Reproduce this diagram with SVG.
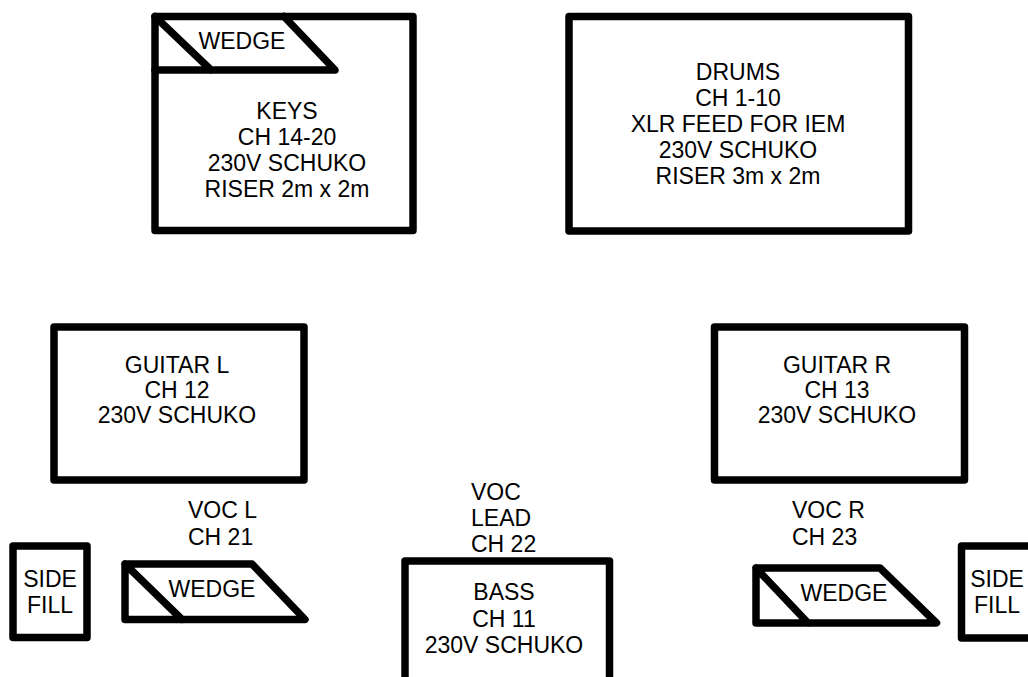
<svg xmlns="http://www.w3.org/2000/svg" width="1028" height="677" viewBox="0 0 1028 677">
<style>
.s{fill:none;stroke:#000;stroke-width:7.5;stroke-linejoin:round;stroke-linecap:round}
text{font-family:"Liberation Sans",Arial,sans-serif;font-size:23px;fill:#000}
.c{text-anchor:middle}
</style>
<rect width="1028" height="677" fill="#fff"/>
<g id="keys">
<rect class="s" x="155" y="16.5" width="258" height="214"/>
<text class="c" x="287" y="119">KEYS</text>
<text class="c" x="287" y="145">CH 14-20</text>
<text class="c" x="287" y="171">230V SCHUKO</text>
<text class="c" x="287" y="197">RISER 2m x 2m</text>
</g>
<g id="keys-wedge">
<path class="s" d="M155 70 H335 L284 16.5 M155 16.5 L211 70"/>
<text class="c" x="242" y="49">WEDGE</text>
</g>
<g id="drums">
<rect class="s" x="569" y="16.5" width="339.5" height="214.5"/>
<text class="c" x="738" y="80">DRUMS</text>
<text class="c" x="738" y="106">CH 1-10</text>
<text class="c" x="738" y="132">XLR FEED FOR IEM</text>
<text class="c" x="738" y="158">230V SCHUKO</text>
<text class="c" x="738" y="184">RISER 3m x 2m</text>
</g>
<g id="guitar-l">
<rect class="s" x="54" y="327" width="250" height="153"/>
<text class="c" x="177" y="373">GUITAR L</text>
<text class="c" x="177" y="398">CH 12</text>
<text class="c" x="177" y="423">230V SCHUKO</text>
</g>
<g id="guitar-r">
<rect class="s" x="714.5" y="327" width="250" height="153"/>
<text class="c" x="837" y="373">GUITAR R</text>
<text class="c" x="837" y="398">CH 13</text>
<text class="c" x="837" y="423">230V SCHUKO</text>
</g>
<g id="bass">
<rect class="s" x="405" y="561" width="204.5" height="140"/>
<text class="c" x="504" y="600">BASS</text>
<text class="c" x="504" y="627">CH 11</text>
<text class="c" x="504" y="653">230V SCHUKO</text>
</g>
<g id="voc-lead">
<text x="471" y="500">VOC</text>
<text x="471" y="526">LEAD</text>
<text x="471" y="552">CH 22</text>
</g>
<g id="voc-l">
<text x="188" y="518">VOC L</text>
<text x="188" y="545">CH 21</text>
</g>
<g id="voc-r">
<text x="792" y="518">VOC R</text>
<text x="792" y="545">CH 23</text>
</g>
<g id="side-fill-l">
<rect class="s" x="13" y="546" width="74" height="91.5"/>
<text class="c" x="50" y="587">SIDE</text>
<text class="c" x="50" y="613">FILL</text>
</g>
<g id="wedge-l">
<path class="s" d="M125 564 H252 L305 619.5 H125 Z M125 564 L182 619.5"/>
<text class="c" x="212" y="597">WEDGE</text>
</g>
<g id="wedge-r">
<path class="s" d="M756 568 H880 L936.5 623 H756 Z M756 568 L808 623"/>
<text class="c" x="844" y="601">WEDGE</text>
</g>
<g id="side-fill-r">
<rect class="s" x="961.5" y="546" width="80" height="92"/>
<text class="c" x="997" y="587">SIDE</text>
<text class="c" x="997" y="613">FILL</text>
</g>
<g id="connectors"></g>
</svg>
